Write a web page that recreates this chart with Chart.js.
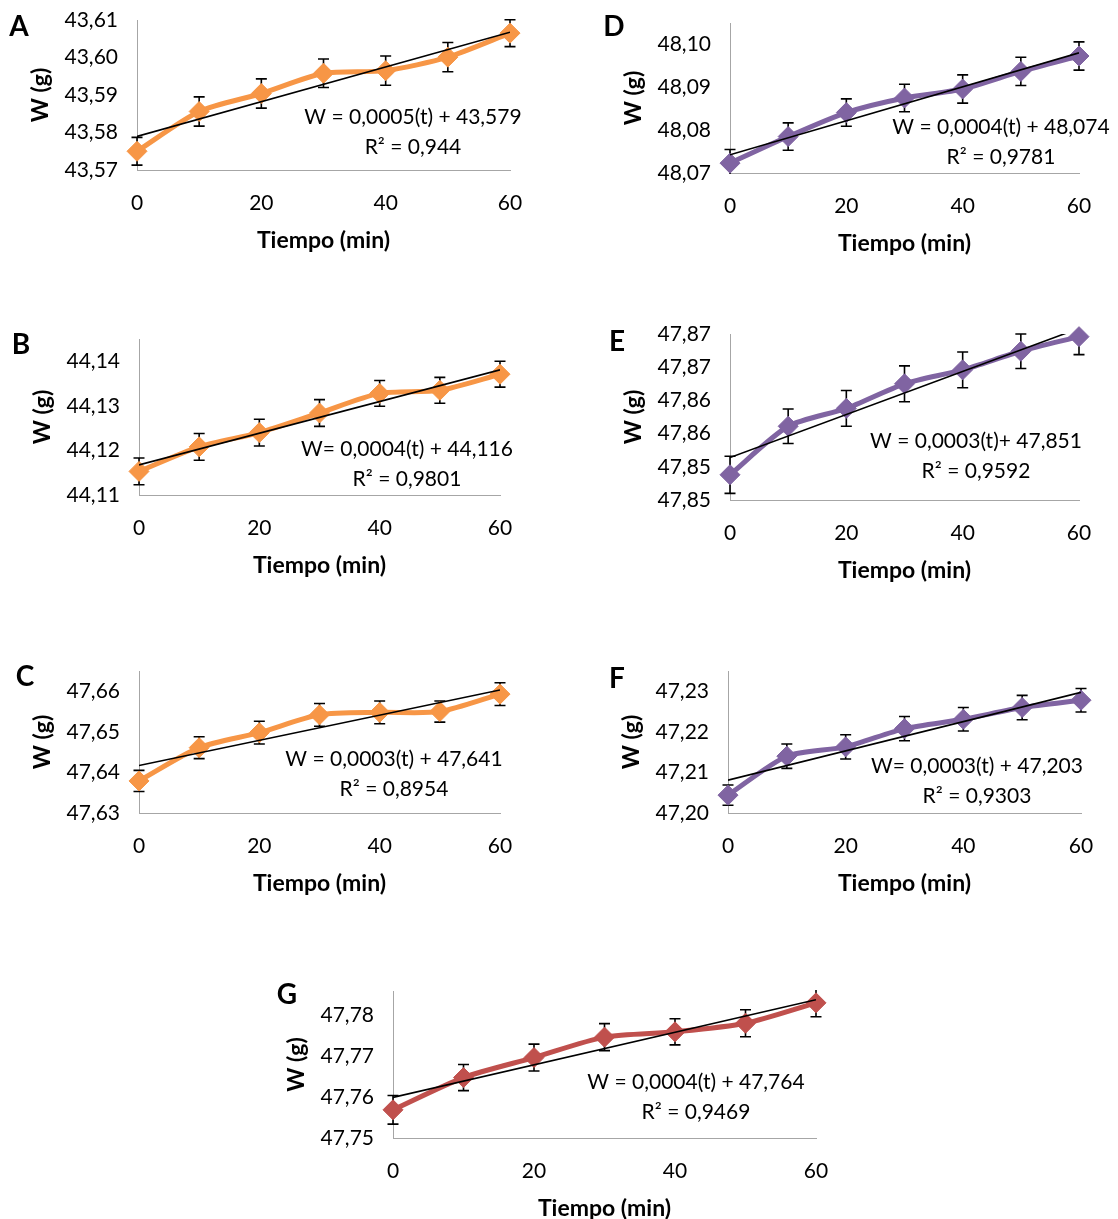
<!DOCTYPE html>
<html>
<head>
<meta charset="utf-8">
<script src="https://cdn.jsdelivr.net/npm/chart.js@4/dist/chart.umd.min.js"></script>
<style>
  body { margin: 0; background: #fff; width: 1118px; height: 1219px; position: relative; overflow: hidden; font-family: Lato, sans-serif; }
  canvas { position: absolute; }
  .letra { position: absolute; font-weight: bold; font-size: 28px; line-height: 1; color: #000; transform: translate(-50%, -50%); }
</style>
</head>
<body>
<script>
// tiempo de muestreo (min) y etiquetas del eje x
const tiempo = [0, 10, 20, 30, 40, 50, 60];
const xTicks = [0, 20, 40, 60];

// A
const pesoA = [43.5750, 43.5856, 43.5904, 43.5958, 43.5965, 43.6001, 43.6065];
const errA = [0.0037, 0.0039, 0.0039, 0.0038, 0.0039, 0.0039, 0.0036];
const rangoA = [43.57, 43.61];
const ticksA = [43.57, 43.58, 43.59, 43.60, 43.61];
const etiqA = ['43,57', '43,58', '43,59', '43,60', '43,61'];
const ecuA = ['W = 0,0005(t) + 43,579', 'R² = 0,944'];

// B
const pesoB = [44.1153, 44.1208, 44.1240, 44.1284, 44.1328, 44.1335, 44.1371];
const errB = [0.0030, 0.0030, 0.0030, 0.0030, 0.0029, 0.0029, 0.0029];
const rangoB = [44.11, 44.145];
const ticksB = [44.11, 44.12, 44.13, 44.14];
const etiqB = ['44,11', '44,12', '44,13', '44,14'];
const ecuB = ['W= 0,0004(t) + 44,116', 'R² = 0,9801'];

// C
const pesoC = [47.6379, 47.6461, 47.6498, 47.6542, 47.6548, 47.6550, 47.6593];
const errC = [0.0026, 0.0027, 0.0028, 0.0028, 0.0028, 0.0026, 0.0028];
const rangoC = [47.63, 47.665];
const ticksC = [47.63, 47.64, 47.65, 47.66];
const etiqC = ['47,63', '47,64', '47,65', '47,66'];
const ecuC = ['W = 0,0003(t) + 47,641', 'R² = 0,8954'];

// D
const pesoD = [48.0723, 48.0785, 48.0841, 48.0875, 48.0896, 48.0937, 48.0973];
const errD = [0.0032, 0.0032, 0.0032, 0.0032, 0.0033, 0.0033, 0.0033];
const rangoD = [48.07, 48.105];
const ticksD = [48.07, 48.08, 48.09, 48.10];
const etiqD = ['48,07', '48,08', '48,09', '48,10'];
const ecuD = ['W = 0,0004(t) + 48,074', 'R² = 0,9781'];

// E
const pesoE = [47.8488, 47.8561, 47.8588, 47.8625, 47.8646, 47.8674, 47.8696];
const errE = [0.0028, 0.0026, 0.0027, 0.0027, 0.0027, 0.0026, 0.0027];
const rangoE = [47.845, 47.870];
const ticksE = [47.845, 47.850, 47.855, 47.860, 47.865, 47.870];
const etiqE = ['47,85', '47,85', '47,86', '47,86', '47,87', '47,87'];
const ecuE = ['W = 0,0003(t)+ 47,851', 'R² = 0,9592'];

// F
const pesoF = [47.2044, 47.2140, 47.2163, 47.2208, 47.2231, 47.2260, 47.2278];
const errF = [0.0025, 0.0030, 0.0030, 0.0030, 0.0029, 0.0030, 0.0029];
const rangoF = [47.20, 47.235];
const ticksF = [47.20, 47.21, 47.22, 47.23];
const etiqF = ['47,20', '47,21', '47,22', '47,23'];
const ecuF = ['W= 0,0003(t) + 47,203', 'R² = 0,9303'];

// G
const pesoG = [47.7569, 47.7648, 47.7697, 47.7747, 47.7760, 47.7781, 47.7831];
const errG = [0.0035, 0.0032, 0.0033, 0.0033, 0.0032, 0.0033, 0.0034];
const rangoG = [47.75, 47.786];
const ticksG = [47.75, 47.76, 47.77, 47.78];
const etiqG = ['47,75', '47,76', '47,77', '47,78'];
const ecuG = ['W = 0,0004(t) + 47,764', 'R² = 0,9469'];

const naranja = '#F79646';
const morado = '#8064A2';
const rojo = '#C0504D';

// area: [izq, arriba, der, abajo] del área de trazado; letra y texto: centro en la página
const paneles = [
    { id: 'A', peso: pesoA, err: errA, rango: rangoA, ticks: ticksA, etiq: etiqA, ecu: ecuA, color: naranja, area: [137, 20, 510, 170], letra: [19, 25], texto: [413, 117] },
    { id: 'B', peso: pesoB, err: errB, rango: rangoB, ticks: ticksB, etiq: etiqB, ecu: ecuB, color: naranja, area: [139, 339, 500, 495], letra: [21, 343], texto: [407, 449] },
    { id: 'C', peso: pesoC, err: errC, rango: rangoC, ticks: ticksC, etiq: etiqC, ecu: ecuC, color: naranja, area: [139, 671, 500, 813], letra: [25, 675], texto: [394, 759] },
    { id: 'D', peso: pesoD, err: errD, rango: rangoD, ticks: ticksD, etiq: etiqD, ecu: ecuD, color: morado, area: [730, 23, 1079, 173], letra: [614, 25], texto: [1001, 127] },
    { id: 'E', peso: pesoE, err: errE, rango: rangoE, ticks: ticksE, etiq: etiqE, ecu: ecuE, color: morado, area: [730, 334, 1079, 500], letra: [617, 340], texto: [976, 441] },
    { id: 'F', peso: pesoF, err: errF, rango: rangoF, ticks: ticksF, etiq: etiqF, ecu: ecuF, color: morado, area: [728, 671, 1081, 813], letra: [617, 677], texto: [977, 766] },
    { id: 'G', peso: pesoG, err: errG, rango: rangoG, ticks: ticksG, etiq: etiqG, ecu: ecuG, color: rojo, area: [393, 991, 816, 1138], letra: [287, 993], texto: [696, 1082] },
];

Chart.defaults.font.family = 'Lato';
Chart.defaults.color = '#000';

// recta de mínimos cuadrados
function ajusteLineal(xs, ys) {
    const n = xs.length;
    const mx = xs.reduce((a, b) => a + b, 0) / n;
    const my = ys.reduce((a, b) => a + b, 0) / n;
    let sxy = 0, sxx = 0;
    xs.forEach((x, i) => {
        sxy += (x - mx) * (ys[i] - my);
        sxx += (x - mx) * (x - mx);
    });
    const m = sxy / sxx;
    return { m: m, b: my - m * mx };
}

// barras de error (desviación) debajo de la serie
const barrasError = {
    id: 'barrasError',
    beforeDatasetsDraw(chart, args, opts) {
        const { ctx, chartArea, scales: { x, y } } = chart;
        ctx.save();
        ctx.beginPath();
        ctx.rect(chartArea.left - 20, chartArea.top - 1, chartArea.width + 40, chartArea.height + 2);
        ctx.clip();
        ctx.strokeStyle = '#000';
        ctx.lineWidth = 1.6;
        tiempo.forEach((t, i) => {
            const px = x.getPixelForValue(t);
            const arriba = y.getPixelForValue(opts.peso[i] + opts.err[i]);
            const abajo = y.getPixelForValue(opts.peso[i] - opts.err[i]);
            ctx.beginPath();
            ctx.moveTo(px, arriba); ctx.lineTo(px, abajo);
            ctx.moveTo(px - 5.5, arriba); ctx.lineTo(px + 5.5, arriba);
            ctx.moveTo(px - 5.5, abajo); ctx.lineTo(px + 5.5, abajo);
            ctx.stroke();
        });
        ctx.restore();
    }
};

// ecuación de la tendencia y R²
const ecuacion = {
    id: 'ecuacion',
    afterDraw(chart, args, opts) {
        const ctx = chart.ctx;
        ctx.save();
        ctx.font = '21px Lato';
        ctx.fillStyle = '#000';
        ctx.textAlign = 'center';
        ctx.textBaseline = 'middle';
        opts.lineas.forEach((txt, i) => ctx.fillText(txt, opts.x, opts.y + i * 30));
        ctx.restore();
    }
};

paneles.forEach(p => {
    const [izq, arriba, der, abajo] = p.area;
    const c = { left: izq - 130, top: arriba - 40, right: der + 45, bottom: abajo + 85 };

    const canvas = document.createElement('canvas');
    canvas.style.left = c.left + 'px';
    canvas.style.top = c.top + 'px';
    canvas.style.width = (c.right - c.left) + 'px';
    canvas.style.height = (c.bottom - c.top) + 'px';
    canvas.width = c.right - c.left;
    canvas.height = c.bottom - c.top;
    document.body.appendChild(canvas);

    const letra = document.createElement('div');
    letra.className = 'letra';
    letra.textContent = p.id;
    letra.style.left = p.letra[0] + 'px';
    letra.style.top = p.letra[1] + 'px';
    document.body.appendChild(letra);

    const fit = ajusteLineal(tiempo, p.peso);
    const serie = tiempo.map((t, i) => ({ x: t, y: p.peso[i] }));
    const tendencia = [0, 60].map(t => ({ x: t, y: fit.b + fit.m * t }));

    new Chart(canvas, {
        type: 'scatter',
        data: {
            datasets: [{
                label: 'Lineal',
                data: tendencia,
                showLine: true,
                borderColor: '#000',
                borderWidth: 1.6,
                pointRadius: 0
            }, {
                label: 'W',
                data: serie,
                showLine: true,
                borderColor: p.color,
                borderWidth: 5,
                tension: 0.25,
                borderJoinStyle: 'round',
                pointStyle: 'rectRot',
                pointRadius: 10,
                pointBackgroundColor: p.color,
                pointBorderColor: p.color,
                pointBorderWidth: 1,
                clip: 20
            }]
        },
        options: {
            responsive: false,
            animation: false,
            layout: { padding: { left: 0, top: arriba - c.top, right: c.right - der, bottom: 0 } },
            scales: {
                x: {
                    type: 'linear',
                    min: 0,
                    max: 60,
                    afterBuildTicks: s => { s.ticks = xTicks.map(v => ({ value: v })); },
                    afterFit: s => { s.height = c.bottom - abajo; },
                    grid: { display: false, drawTicks: false },
                    border: { display: true, color: '#a6a6a6', width: 1 },
                    ticks: { font: { size: 21 }, padding: 21, color: '#000' },
                    title: { display: true, text: 'Tiempo (min)', font: { size: 23, weight: 'bold' }, color: '#000', padding: { top: 0, bottom: 1 } }
                },
                y: {
                    type: 'linear',
                    min: p.rango[0],
                    max: p.rango[1],
                    afterBuildTicks: s => { s.ticks = p.ticks.map(v => ({ value: v })); },
                    afterFit: s => { s.width = izq - c.left; },
                    grid: { display: false, drawTicks: false },
                    border: { display: true, color: '#a6a6a6', width: 1 },
                    ticks: { font: { size: 21 }, padding: 19, color: '#000', callback: (v, i) => p.etiq[i] },
                    title: { display: true, text: 'W (g)', font: { size: 23, weight: 'bold' }, color: '#000', padding: { top: 20, bottom: 0 } }
                }
            },
            plugins: {
                legend: { display: false },
                tooltip: { enabled: false },
                barrasError: { peso: p.peso, err: p.err },
                ecuacion: { lineas: p.ecu, x: p.texto[0] - c.left, y: p.texto[1] - c.top }
            }
        },
        plugins: [barrasError, ecuacion]
    });
});
</script>
</body>
</html>
